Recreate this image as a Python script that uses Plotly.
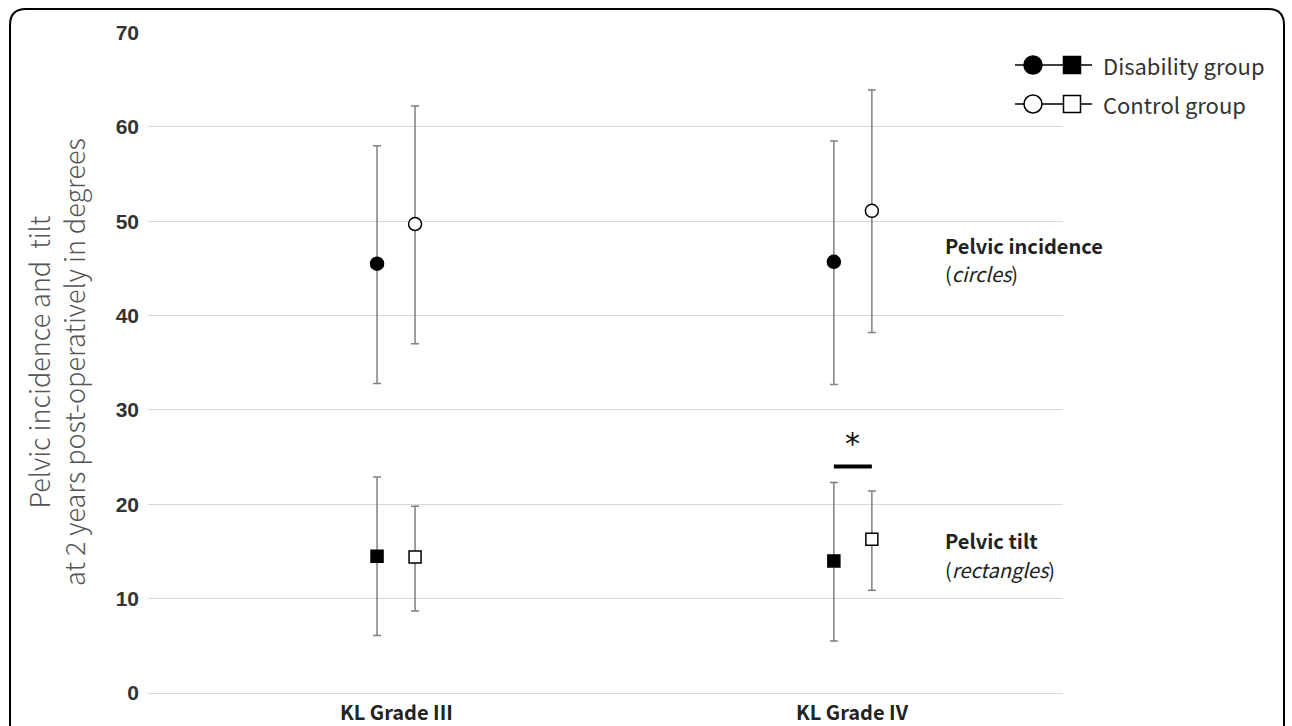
import numpy as np
import plotly.graph_objects as go

# ---------------- data ----------------
categories = ["KL Grade III", "KL Grade IV"]

dis_pi_mean = [45.5, 45.7]
dis_pi_upper = [58.0, 58.5]
dis_pi_lower = [32.8, 32.7]

ctl_pi_mean = [49.7, 51.1]
ctl_pi_upper = [62.2, 63.9]
ctl_pi_lower = [37.0, 38.2]

dis_pt_mean = [14.5, 14.0]
dis_pt_upper = [22.9, 22.3]
dis_pt_lower = [6.1, 5.5]

ctl_pt_mean = [14.4, 16.3]
ctl_pt_upper = [19.8, 21.4]
ctl_pt_lower = [8.7, 10.9]

y_ticks = [0, 10, 20, 30, 40, 50, 60, 70]
sig_category = "KL Grade IV"
sig_bar_y = 24.0
sig_star_y = 26.4

# ---------------- geometry ----------------
W, H = 1292, 726
L, R, T, B = 148, 1063, 32, 693          # plot area in screen pixels
xpos = np.arange(len(categories), dtype=float)
off = 0.0416
x_range = [-0.543, 1.46]

def px(x):  # screen px -> paper
    return (x - L) / (R - L)

def py(y):
    return (B - y) / (B - T)

ERR_COLOR = "#808080"
FONT_JP = "Noto Sans CJK JP"

def err(mean, upper, lower):
    m = np.array(mean)
    return dict(type="data", symmetric=False,
                array=list(np.array(upper) - m),
                arrayminus=list(m - np.array(lower)),
                color=ERR_COLOR, thickness=1.5, width=4)

fig = go.Figure()

def add(xs, mean, upper, lower, symbol, fill, size):
    fig.add_trace(go.Scatter(
        x=xs, y=mean, mode="markers",
        marker=dict(symbol=symbol, size=size, color=fill,
                    line=dict(color="black", width=1.5)),
        error_y=err(mean, upper, lower),
        showlegend=False, hoverinfo="skip"))

add(xpos - off, dis_pi_mean, dis_pi_upper, dis_pi_lower, "circle", "black", 13)
add(xpos + off, ctl_pi_mean, ctl_pi_upper, ctl_pi_lower, "circle", "white", 13)
add(xpos - off, dis_pt_mean, dis_pt_upper, dis_pt_lower, "square", "black", 12)
add(xpos + off, ctl_pt_mean, ctl_pt_upper, ctl_pt_lower, "square", "white", 12)

shapes = []
annotations = []

# category labels
for xi, cat in zip(xpos, categories):
    annotations.append(dict(x=xi, y=py(711), xref="x", yref="paper", text=f"<b>{cat}</b>",
                            showarrow=False, xanchor="center", yanchor="middle",
                            font=dict(size=20, color="#222222", family=FONT_JP)))

# significance bar + star
ci = categories.index(sig_category)
shapes.append(dict(type="line", xref="x", yref="y",
                   x0=xpos[ci] - off, x1=xpos[ci] + off, y0=sig_bar_y, y1=sig_bar_y,
                   line=dict(color="black", width=4)))
annotations.append(dict(x=xpos[ci], y=sig_star_y, xref="x", yref="y", text="*",
                        showarrow=False, font=dict(size=30, color="#111111", family="DejaVu Sans")))

# rounded frame
x0, x1, y0, y1, r = 10, 1284, 9, 790, 16
path = (f"M {px(x0+r)},{py(y0)} L {px(x1-r)},{py(y0)} "
        f"Q {px(x1)},{py(y0)} {px(x1)},{py(y0+r)} L {px(x1)},{py(y1)} "
        f"L {px(x0)},{py(y1)} L {px(x0)},{py(y0+r)} "
        f"Q {px(x0)},{py(y0)} {px(x0+r)},{py(y0)} Z")
shapes.append(dict(type="path", xref="paper", yref="paper", path=path,
                   line=dict(color="black", width=2), fillcolor="rgba(0,0,0,0)"))

# custom legend
legend_rows = [("Disability group", "black", 65), ("Control group", "white", 104)]
for label, fill, yc in legend_rows:
    shapes.append(dict(type="line", xref="paper", yref="paper",
                       x0=px(1015), x1=px(1092), y0=py(yc), y1=py(yc),
                       line=dict(color="black", width=1.5)))
    rr = 9
    shapes.append(dict(type="circle", xref="paper", yref="paper",
                       x0=px(1033 - rr), x1=px(1033 + rr), y0=py(yc - rr), y1=py(yc + rr),
                       line=dict(color="black", width=1.5), fillcolor=fill))
    s = 8.5
    shapes.append(dict(type="rect", xref="paper", yref="paper",
                       x0=px(1072 - s), x1=px(1072 + s), y0=py(yc - s), y1=py(yc + s),
                       line=dict(color="black", width=1.5), fillcolor=fill))
    annotations.append(dict(x=px(1101), y=py(yc), xref="paper", yref="paper",
                            text=label, showarrow=False, xanchor="left", yanchor="middle",
                            font=dict(size=22, color="#333333", family=FONT_JP)))

# right side labels (one annotation per line)
right_labels = [
    ("<b>Pelvic incidence</b>", 245),
    ("(<i>circles</i>)", 273),
    ("<b>Pelvic tilt</b>", 540),
    ("(<i>rectangles</i>)", 569),
]
for txt, yc in right_labels:
    annotations.append(dict(x=px(943), y=py(yc), xref="paper", yref="paper",
                            text=txt, showarrow=False, xanchor="left", yanchor="middle",
                            font=dict(size=20, color="#222222", family=FONT_JP)))

# y axis title
annotations.append(dict(x=px(56), y=py(362), xref="paper", yref="paper",
                        text="Pelvic incidence and  tilt<br>at 2 years post-operatively in degrees",
                        textangle=-90, showarrow=False, xanchor="center", yanchor="middle",
                        font=dict(size=27, color="#555555", family=FONT_JP, weight=300)))

fig.update_layout(
    width=W, height=H,
    margin=dict(l=L, r=W - R, t=T, b=H - B),
    paper_bgcolor="white", plot_bgcolor="white",
    shapes=shapes, annotations=annotations,
    xaxis=dict(range=x_range, showticklabels=False, showgrid=False,
               zeroline=False, showline=False, ticks=""),
    yaxis=dict(range=[0, 70.05], tickmode="array", tickvals=y_ticks,
               showgrid=True, gridcolor="#d9d9d9", gridwidth=1,
               zeroline=True, zerolinecolor="#d9d9d9", zerolinewidth=1,
               showline=False, ticks="", ticklabelstandoff=8,
               tickfont=dict(size=21, color="#333333", family="Liberation Sans", weight="bold")),
)

fig.write_html("out.html", config={"displayModeBar": False},
               post_script="document.body.style.margin='0';document.body.style.overflow='hidden';")
